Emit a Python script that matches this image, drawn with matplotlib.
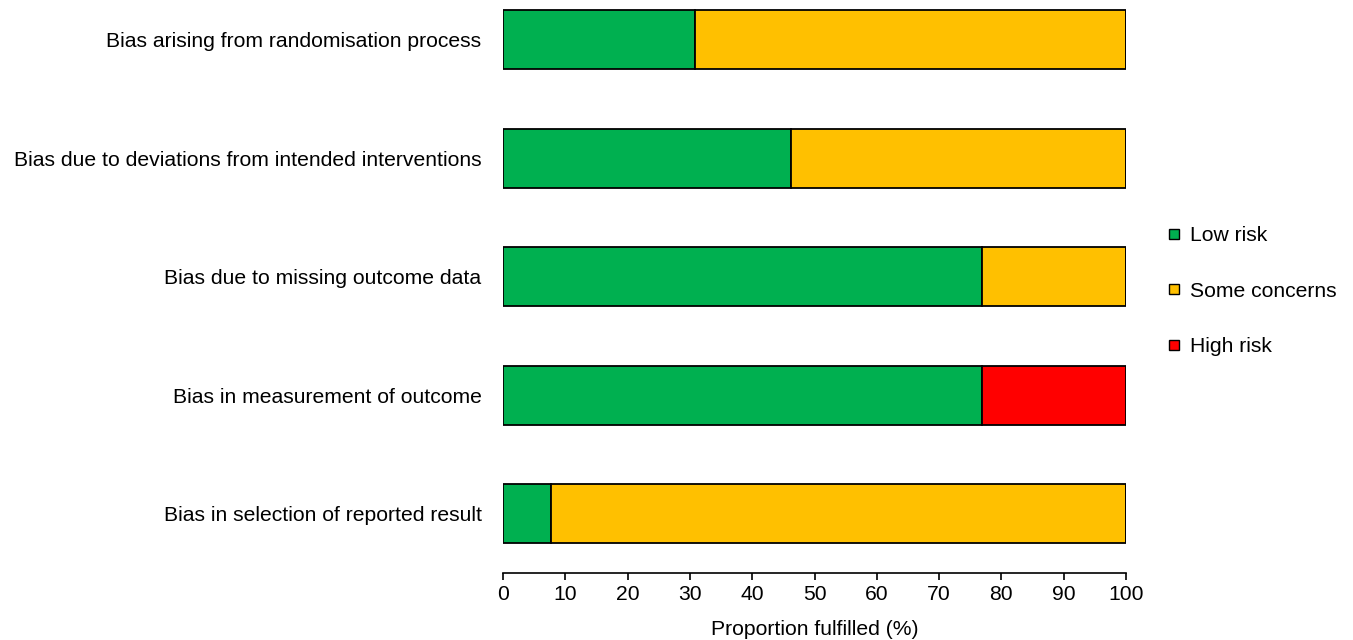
import matplotlib.pyplot as plt
from matplotlib.lines import Line2D

plt.rcParams['font.family'] = ['Liberation Sans', 'DejaVu Sans']

# Risk of bias domains (top to bottom)
domains = ['Bias arising from randomisation process',
           'Bias due to deviations from intended interventions',
           'Bias due to missing outcome data',
           'Bias in measurement of outcome',
           'Bias in selection of reported result']
low_risk = [30.8, 46.2, 76.9, 76.9, 7.7]
some_concerns = [69.2, 53.8, 23.1, 0.0, 92.3]
high_risk = [0.0, 0.0, 0.0, 23.1, 0.0]

categories = ['Low risk', 'Some concerns', 'High risk']
colors = ['#00B050', '#FFC000', '#FF0000']

fs = 15.2

fig = plt.figure(figsize=(13.53, 6.4), dpi=100)
ax = fig.add_axes([0.3718, 0.1047, 0.4604, 0.898])

ypos = list(range(len(domains)))
left = [0.0] * len(domains)
for vals, col in zip([low_risk, some_concerns, high_risk], colors):
    ax.barh(ypos, vals, left=left, height=0.5, color=col,
            edgecolor='black', linewidth=1.3)
    left = [l + v for l, v in zip(left, vals)]

ax.set_ylim(4.5, -0.35)
ax.set_xlim(0, 100)
ax.set_yticks(ypos)
ax.set_yticklabels(domains, fontsize=fs)
ax.tick_params(axis='y', length=0, pad=15.5)
ax.set_xticks(range(0, 101, 10))
ax.tick_params(axis='x', labelsize=fs, length=5, width=1.2, pad=4)
ax.set_xlabel('Proportion fulfilled (%)', fontsize=fs, labelpad=11)

for s in ['top', 'right', 'left']:
    ax.spines[s].set_visible(False)
ax.spines['bottom'].set_linewidth(1.2)
ax.spines['bottom'].set_bounds(0, 100)

handles = [Line2D([0], [0], marker='s', linestyle='none', markersize=7,
                  markerfacecolor=c, markeredgecolor='black', markeredgewidth=1)
           for c in colors]
fig.legend(handles, categories, loc='upper left',
           bbox_to_anchor=(0.849, 0.676), frameon=False, fontsize=fs,
           handlelength=0.6, handletextpad=0.45, labelspacing=1.72)

fig.savefig('out.png', dpi=100)
